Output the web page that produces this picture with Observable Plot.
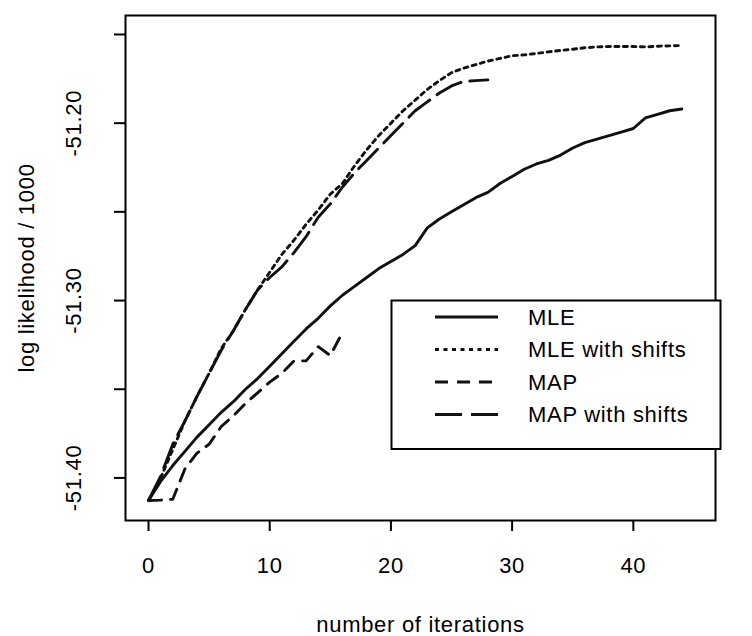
<!DOCTYPE html>
<html>
<head>
<meta charset="utf-8">
<script src="https://cdn.jsdelivr.net/npm/d3@7"></script>
<script src="https://cdn.jsdelivr.net/npm/@observablehq/plot@0.6"></script>
<style>
  html, body { margin: 0; padding: 0; background: white; }
  #chart { width: 752px; height: 636px; }
</style>
</head>
<body>
<div id="chart"></div>
<script>
const iterations = [0,1,2,3,4,5,6,7,8,9,10,11,12,13,14,15,16,17,18,19,20,21,22,23,24,25,26,27,28,29,30,31,32,33,34,35,36,37,38,39,40,41,42,43,44];

const mle = [-51.4127,-51.402,-51.393,-51.385,-51.377,-51.370,-51.363,-51.357,-51.350,-51.344,
  -51.337,-51.330,-51.323,-51.316,-51.310,-51.303,-51.297,-51.292,-51.287,-51.282,
  -51.278,-51.274,-51.269,-51.259,-51.254,-51.250,-51.246,-51.242,-51.239,-51.234,
  -51.230,-51.226,-51.223,-51.221,-51.218,-51.214,-51.211,-51.209,-51.207,-51.205,
  -51.203,-51.197,-51.195,-51.193,-51.192];

const mleShifts = [-51.4127,-51.400,-51.384,-51.368,-51.354,-51.341,-51.327,-51.317,-51.305,-51.294,
  -51.284,-51.274,-51.266,-51.257,-51.249,-51.240,-51.234,-51.224,-51.215,-51.207,
  -51.200,-51.193,-51.187,-51.181,-51.176,-51.1715,-51.169,-51.167,-51.165,-51.1635,
  -51.162,-51.1615,-51.1607,-51.1598,-51.159,-51.1583,-51.1575,-51.157,-51.1568,-51.1568,
  -51.1568,-51.157,-51.1566,-51.1564,-51.1562];

const map = [-51.4127,-51.4125,-51.412,-51.395,-51.386,-51.381,-51.371,-51.365,-51.358,-51.352,
  -51.346,-51.341,-51.334,-51.334,-51.326,-51.331,-51.318];

const mapShifts = [-51.4127,-51.399,-51.381,-51.368,-51.354,-51.341,-51.328,-51.317,-51.305,-51.294,
  -51.287,-51.281,-51.273,-51.264,-51.253,-51.2455,-51.236,-51.228,-51.221,-51.214,
  -51.207,-51.200,-51.193,-51.188,-51.183,-51.179,-51.1765,-51.176,-51.1756];

const seriesNames = ["MLE", "MLE with shifts", "MAP", "MAP with shifts"];
const seriesValues = [mle, mleShifts, map, mapShifts];
const dashes = [null, "4,4.5", "13,9", "27,9"];

const xTicks = [0, 10, 20, 30, 40];
const yTicks = [-51.40, -51.35, -51.30, -51.25, -51.20, -51.15];
const yTickLabels = [-51.40, -51.30, -51.20];

const xTitle = "number of iterations";
const yTitle = "log likelihood / 1000";

const FONT = "'Liberation Sans', Arial, Helvetica, sans-serif";

const rows = seriesNames.map((name, k) => seriesValues[k].map((v, i) => ({x: iterations[i], y: v, series: name})));

const lineMarks = rows.map((data, k) => Plot.line(data, {
  x: "x", y: "y", stroke: "#111", strokeWidth: 2.9,
  strokeDasharray: dashes[k] || undefined, strokeLinejoin: "round"
}));

const chart = Plot.plot({
  width: 752,
  height: 636,
  marginLeft: 125,
  marginRight: 37,
  marginTop: 15,
  marginBottom: 116,
  style: {background: "white", color: "black", fontFamily: FONT, fontSize: "22px", letterSpacing: "0.7px", overflow: "visible"},
  x: {domain: [-1.9, 46.78]},
  y: {domain: [-51.424, -51.1393]},
  marks: [
    ...lineMarks,
    Plot.frame({stroke: "black", strokeWidth: 2}),
    Plot.axisX({
      ticks: xTicks, tickSize: 11, tickPadding: 26, strokeWidth: 2, fontSize: 22,
      tickFormat: d => String(d),
      label: xTitle, labelAnchor: "center", labelOffset: 111, labelArrow: "none"
    }),
    Plot.axisY({
      ticks: yTicks, tickSize: 11, tickPadding: 34, strokeWidth: 2, fontSize: 22, tickRotate: -90,
      tickFormat: d => yTickLabels.some(t => Math.abs(t - d) < 1e-9) ? d.toFixed(2) : "",
      label: yTitle, labelAnchor: "center", labelOffset: 107, labelArrow: "none"
    })
  ]
});

document.getElementById("chart").appendChild(chart);

// Legend box (drawn inside the same SVG)
const svg = d3.select(chart.tagName.toLowerCase() === "svg" ? chart : chart.querySelector("svg"));
const lg = svg.append("g").attr("class", "legend").attr("text-anchor", "start");
lg.append("rect")
  .attr("x", 391.5).attr("y", 300.5).attr("width", 329).attr("height", 148.5)
  .attr("fill", "white").attr("stroke", "black").attr("stroke-width", 2);
const rowY = [317, 349.5, 382, 414.5];
seriesNames.forEach((name, k) => {
  const l = lg.append("line")
    .attr("x1", 435).attr("x2", 498).attr("y1", rowY[k]).attr("y2", rowY[k])
    .attr("stroke", "#111").attr("stroke-width", 2.9);
  if (dashes[k]) l.attr("stroke-dasharray", dashes[k]);
  lg.append("text")
    .attr("x", 528).attr("y", rowY[k]).attr("dy", "0.35em")
    .attr("text-anchor", "start")
    .attr("font-family", FONT).attr("font-size", 22).attr("fill", "black")
    .text(name);
});
</script>
</body>
</html>
